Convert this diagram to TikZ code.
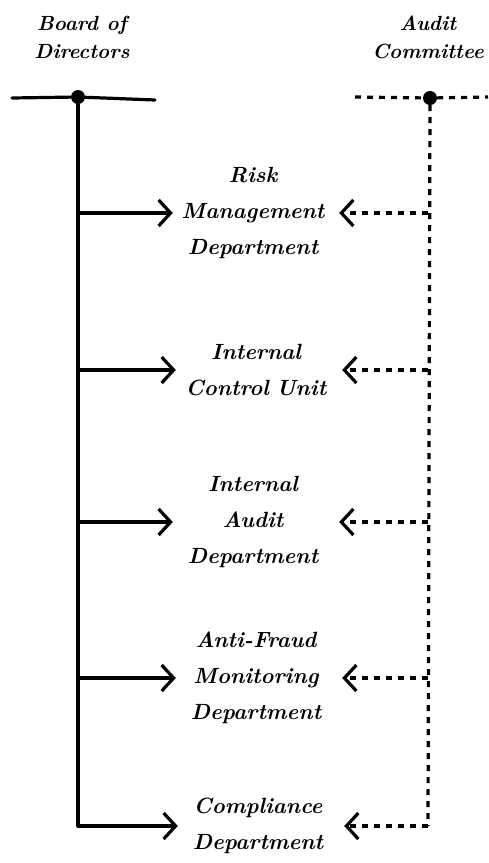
\documentclass[tikz,border=0pt]{standalone}
\usepackage{fontspec}
\setmainfont{Latin Modern Roman}
\usetikzlibrary{arrows.meta}
\begin{document}
\begin{tikzpicture}[x=1pt,y=-1pt,
  solidln/.style={line width=3.2pt,line cap=round,line join=round},
  dashln/.style={line width=3.2pt,dash pattern=on 6pt off 6pt},
  tip/.style={-{Straight Barb[length=12pt,width=26pt,line width=3.2pt]}},
  dept/.style={font=\fontsize{22}{36}\selectfont\bfseries\itshape,align=center,text width=160pt,inner sep=0pt},
  head/.style={font=\fontsize{20.5}{28}\selectfont\bfseries\itshape,align=center,inner sep=0pt},
  dot/.style={circle,fill=black,inner sep=0pt,minimum size=14pt}]
\useasboundingbox (0,0) rectangle (488,863);
% headings
\node[head] (bod) at (82,37) {Board of\\Directors};
\node[head] (ac) at (428,37) {Audit\\Committee};
% department labels
\node[dept] (rm) at (253,213) {Risk\\Management\\Department};
\node[dept] (ic) at (256,370) {Internal\\Control Unit};
\node[dept] (ia) at (253,522) {Internal\\Audit\\Department};
\node[dept] (af) at (256,678) {Anti-Fraud\\Monitoring\\Department};
\node[dept] (cd) at (258,826) {Compliance\\Department};
% left structure
\node[dot] (ld) at (78,97) {};
\coordinate (ll) at (12,98);
\coordinate (lr) at (155,100);
\draw[solidln] (ll) -- (ld) -- (lr);
\coordinate (lb) at (78,826);
\draw[solidln] (ld) -- (lb);
\foreach \n in {rm,ic,ia,af,cd}{
  \draw[solidln,tip] (lb |- \n.west) -- (\n.west);
}
% right structure
\node[dot] (rd) at (430,98) {};
\coordinate (rl) at (355,97);
\coordinate (rr) at (488,97);
\draw[dashln] (rl) -- (rd) -- (rr);
\coordinate (rb) at (428,826);
\draw[dashln] (rd) -- (rb);
\foreach \n in {rm,ic,ia,af,cd}{
  \draw[dashln,tip] (rb |- \n.east) -- ([xshift=6pt]\n.east);
}
\end{tikzpicture}
\end{document}
